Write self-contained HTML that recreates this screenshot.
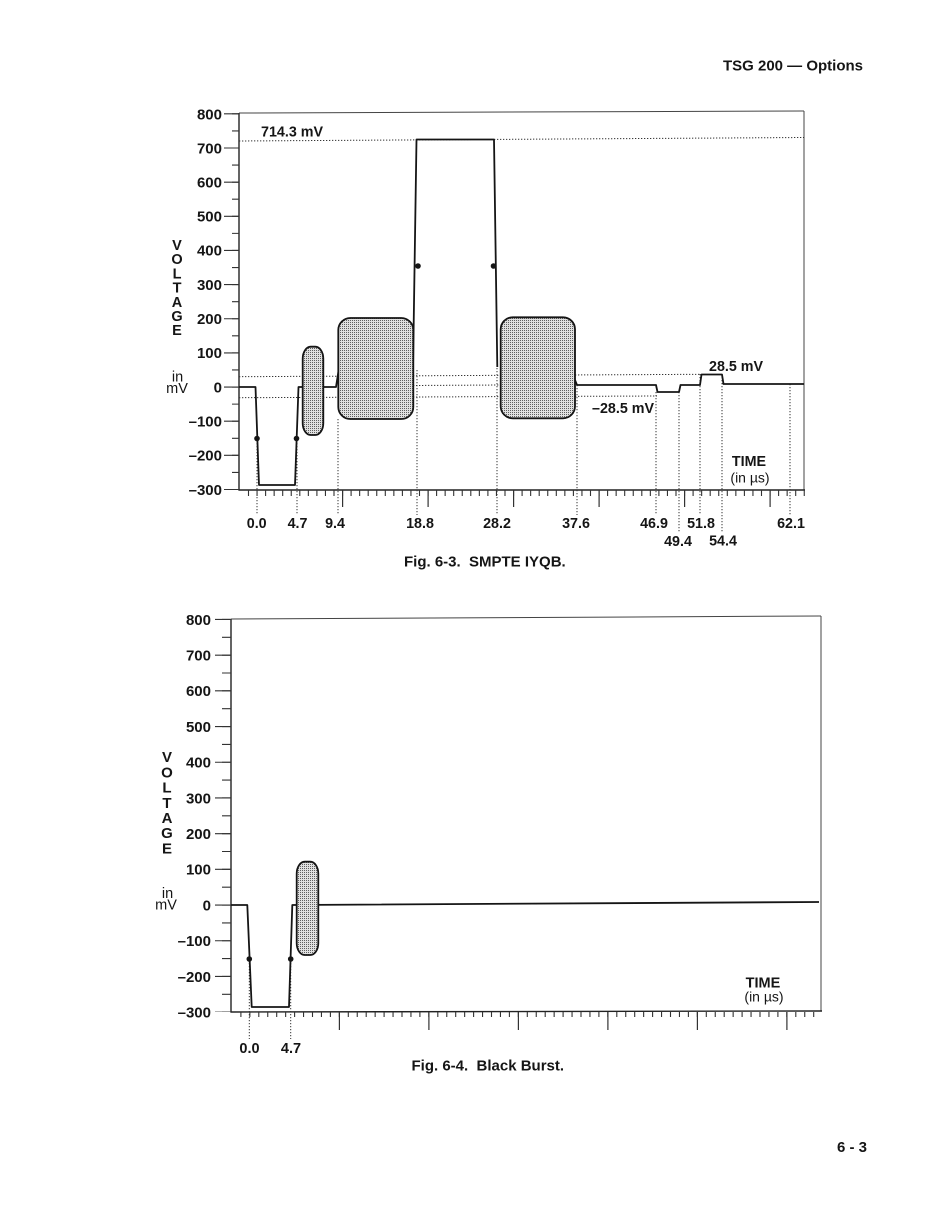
<!DOCTYPE html>
<html>
<head>
<meta charset="utf-8">
<style>
html,body{margin:0;padding:0;background:#fff;}
body{width:950px;height:1229px;overflow:hidden;}
svg{display:block;}
text{font-family:"Liberation Sans",Arial,sans-serif;fill:#151515;}
.b{font-weight:bold;}
</style>
</head>
<body>
<svg width="950" height="1229" viewBox="0 0 950 1229" xmlns="http://www.w3.org/2000/svg">
<defs>
<pattern id="st" width="2" height="2" patternUnits="userSpaceOnUse">
<rect width="2" height="2" fill="#e0e0e0"/>
<rect width="1" height="1" fill="#5f5f5f"/>
</pattern>
</defs>

<!-- Header / footer -->
<text class="b" x="863" y="70.5" font-size="15">
<tspan text-anchor="end">TSG 200 — Options</tspan></text>
<text class="b" x="867" y="1152" font-size="15" text-anchor="end">6 - 3</text>

<!-- ================= TOP CHART ================= -->
<line x1="239" y1="113" x2="804" y2="111" stroke="#444" stroke-width="1"/>
<line x1="804" y1="111" x2="804" y2="490" stroke="#444" stroke-width="1"/>
<line x1="239" y1="113" x2="239" y2="490.5" stroke="#222" stroke-width="1.4"/>
<line x1="238.5" y1="490" x2="805" y2="490" stroke="#222" stroke-width="1.4"/>

<line x1="235.5" y1="113.3" x2="235.5" y2="490" stroke="#333" stroke-width="7" stroke-dasharray="1.1 15.975"/>
<line x1="231.5" y1="113.3" x2="231.5" y2="490" stroke="#333" stroke-width="15" stroke-dasharray="1.1 33.05"/>
<line x1="247.95" y1="493" x2="805" y2="493" stroke="#333" stroke-width="6" stroke-dasharray="1.1 7.45"/>
<line x1="342" y1="498.5" x2="805" y2="498.5" stroke="#333" stroke-width="17" stroke-dasharray="1.2 84.3"/>

<g class="b" font-size="15" text-anchor="end">
<text x="222" y="119.5">800</text>
<text x="222" y="153.3">700</text>
<text x="222" y="187.4">600</text>
<text x="222" y="221.6">500</text>
<text x="222" y="255.7">400</text>
<text x="222" y="289.9">300</text>
<text x="222" y="324">200</text>
<text x="222" y="358.2">100</text>
<text x="222" y="392.3">0</text>
<text x="222" y="426.5">–100</text>
<text x="222" y="460.6">–200</text>
<text x="222" y="494.8">–300</text>
</g>
<g class="b" font-size="14.5" text-anchor="middle">
<text x="177" y="250">V</text>
<text x="177" y="264.2">O</text>
<text x="177" y="278.4">L</text>
<text x="177" y="292.6">T</text>
<text x="177" y="306.8">A</text>
<text x="177" y="321">G</text>
<text x="177" y="335.2">E</text>
</g>
<text x="177.5" y="381.5" font-size="14.5" text-anchor="middle">in</text>
<text x="177" y="393" font-size="14.5" text-anchor="middle">mV</text>

<g stroke="#333" stroke-width="1" stroke-dasharray="1.3 1.7" fill="none">
<line x1="239" y1="141" x2="804" y2="137.5"/>
<line x1="239" y1="376.7" x2="701" y2="374.3"/>
<line x1="239" y1="397.7" x2="657" y2="396"/>
<line x1="413" y1="385.5" x2="502" y2="385"/>
</g>
<g stroke="#333" stroke-width="1" stroke-dasharray="1.3 1.7" fill="none">
<line x1="257" y1="440" x2="257" y2="515"/>
<line x1="297" y1="440" x2="297" y2="515"/>
<line x1="338" y1="419" x2="338" y2="515"/>
<line x1="417" y1="370" x2="417" y2="515"/>
<line x1="497" y1="368" x2="497" y2="515"/>
<line x1="577" y1="385" x2="577" y2="515"/>
<line x1="656" y1="392" x2="656" y2="515"/>
<line x1="679" y1="392" x2="679" y2="533"/>
<line x1="700" y1="374" x2="700" y2="515"/>
<line x1="722" y1="374" x2="722" y2="533"/>
<line x1="790" y1="384" x2="790" y2="515"/>
</g>

<path d="M239,387 L255.5,387 L259,485 L295,485 L298.5,387 L336,387 L338.5,371
         M413,369 L416.5,139.5 L494,139.5 L497.3,367
         M575,380 L577,385 L656,385 L657.5,392 L679,392 L680.5,385 L700,385 L701.5,374.5 L722,374.5 L723.5,384 L804,384"
      fill="none" stroke="#151515" stroke-width="1.8" stroke-linejoin="round"/>
<rect x="302.7" y="346.7" width="20.6" height="88.3" rx="8" ry="12" fill="url(#st)" stroke="#151515" stroke-width="1.8"/>
<rect x="338.3" y="318" width="75" height="101" rx="12" ry="12" fill="url(#st)" stroke="#151515" stroke-width="1.8"/>
<rect x="500.7" y="317.3" width="74.3" height="101" rx="12" ry="12" fill="url(#st)" stroke="#151515" stroke-width="1.8"/>
<g fill="#151515">
<circle cx="257" cy="438.5" r="2.8"/>
<circle cx="296.5" cy="438.5" r="2.8"/>
<circle cx="418" cy="266" r="2.8"/>
<circle cx="493.5" cy="266" r="2.8"/>
</g>

<g class="b" font-size="14.3">
<text x="261" y="136.7">714.3 mV</text>
<text x="709" y="371">28.5 mV</text>
<text x="592" y="413">–28.5 mV</text>
<text x="749" y="466" text-anchor="middle">TIME</text>
</g>
<text x="750" y="482.5" font-size="14" text-anchor="middle">(in µs)</text>

<g class="b" font-size="14.3" text-anchor="middle">
<text x="256.7" y="528">0.0</text>
<text x="297.5" y="528">4.7</text>
<text x="335" y="528">9.4</text>
<text x="420" y="528">18.8</text>
<text x="497" y="528">28.2</text>
<text x="576" y="528">37.6</text>
<text x="654" y="528">46.9</text>
<text x="701" y="528">51.8</text>
<text x="791" y="528">62.1</text>
<text x="678" y="546">49.4</text>
<text x="723" y="545.5">54.4</text>
</g>
<text class="b" x="404" y="566.5" font-size="15" xml:space="preserve">Fig. 6-3.&#160; SMPTE IYQB.</text>

<!-- ================= BOTTOM CHART ================= -->
<line x1="231" y1="619" x2="821" y2="616" stroke="#444" stroke-width="1"/>
<line x1="821" y1="616" x2="821" y2="1011" stroke="#444" stroke-width="1"/>
<line x1="231" y1="619" x2="231" y2="1012.5" stroke="#222" stroke-width="1.4"/>
<line x1="230.5" y1="1012" x2="822" y2="1011" stroke="#222" stroke-width="1.4"/>

<line x1="226.5" y1="618.9" x2="226.5" y2="1012" stroke="#333" stroke-width="9" stroke-dasharray="1.1 16.75"/>
<line x1="223" y1="618.9" x2="223" y2="1012" stroke="#333" stroke-width="16" stroke-dasharray="1.1 34.6"/>
<line x1="240.35" y1="1014.5" x2="822" y2="1014.5" stroke="#333" stroke-width="5" stroke-dasharray="1.1 7.85"/>
<line x1="338.8" y1="1021" x2="822" y2="1021" stroke="#333" stroke-width="18" stroke-dasharray="1.2 88.3"/>

<g class="b" font-size="15" text-anchor="end">
<text x="211" y="624.8">800</text>
<text x="211" y="660.5">700</text>
<text x="211" y="696.2">600</text>
<text x="211" y="731.9">500</text>
<text x="211" y="767.6">400</text>
<text x="211" y="803.3">300</text>
<text x="211" y="839">200</text>
<text x="211" y="874.7">100</text>
<text x="211" y="910.4">0</text>
<text x="211" y="946.1">–100</text>
<text x="211" y="981.8">–200</text>
<text x="211" y="1017.5">–300</text>
</g>
<g class="b" font-size="15" text-anchor="middle">
<text x="167" y="762.2">V</text>
<text x="167" y="777.4">O</text>
<text x="167" y="792.6">L</text>
<text x="167" y="807.8">T</text>
<text x="167" y="823">A</text>
<text x="167" y="838.2">G</text>
<text x="167" y="853.4">E</text>
</g>
<text x="167.5" y="898" font-size="14.5" text-anchor="middle">in</text>
<text x="166" y="909.5" font-size="14.5" text-anchor="middle">mV</text>

<g stroke="#333" stroke-width="1" stroke-dasharray="1.3 1.7" fill="none">
<line x1="249.3" y1="960" x2="249.3" y2="1039"/>
<line x1="290.7" y1="960" x2="290.7" y2="1039"/>
</g>

<path d="M231,905 L247.3,905 L251.7,1007 L289,1007 L292.3,905 L819,902"
      fill="none" stroke="#151515" stroke-width="1.8" stroke-linejoin="round"/>
<rect x="296.7" y="861.7" width="21.6" height="93.3" rx="8" ry="12" fill="url(#st)" stroke="#151515" stroke-width="1.8"/>
<g fill="#151515">
<circle cx="249.3" cy="959" r="2.8"/>
<circle cx="290.7" cy="959" r="2.8"/>
</g>

<text class="b" x="763" y="987.5" font-size="14.5" text-anchor="middle">TIME</text>
<text x="764" y="1001.5" font-size="14" text-anchor="middle">(in µs)</text>

<g class="b" font-size="14.5" text-anchor="middle">
<text x="249.5" y="1053">0.0</text>
<text x="291" y="1053">4.7</text>
</g>
<text class="b" x="411.5" y="1070.5" font-size="15" xml:space="preserve">Fig. 6-4.&#160; Black Burst.</text>
</svg>
</body>
</html>
